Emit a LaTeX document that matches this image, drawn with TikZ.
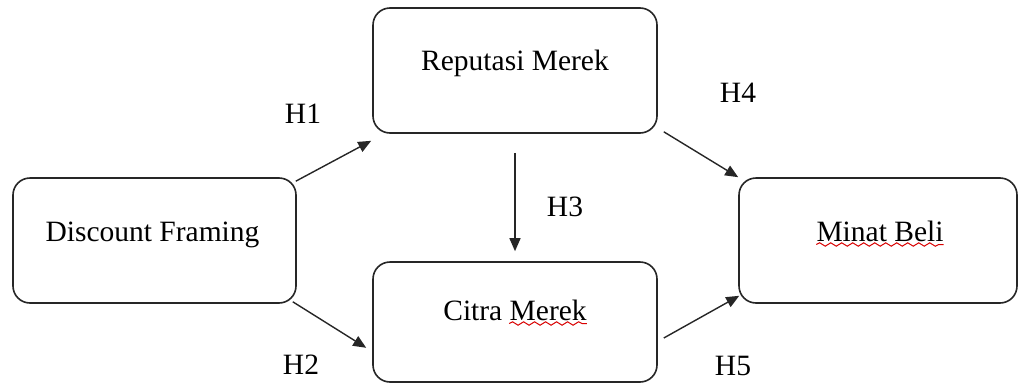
\documentclass[tikz,border=0pt]{standalone}
\usepackage{fontspec}
\setmainfont{Liberation Serif}
\usetikzlibrary{arrows.meta,calc,decorations.pathmorphing}
\tikzset{
  box/.style={draw=black!85, line width=1.6pt, rounded corners=17pt, fill=white},
  txt/.style={inner sep=0pt, anchor=base, font=\fontsize{29.5}{35}\selectfont},
  conn/.style={line width=1.4pt, draw=black!85, -{Triangle[length=13pt,width=11pt]}},
  spell/.style={draw=red!85!black, line width=1pt, decorate, decoration={snake, segment length=11pt, amplitude=1.7pt}}
}
\begin{document}
\begin{tikzpicture}[x=1pt,y=-1pt]
\useasboundingbox (0,0) rectangle (1018,386);
% boxes
\node[box, minimum width=283pt, minimum height=125pt] (df) at (154.5,240.5) {};
\node[box, minimum width=284pt, minimum height=125pt] (rep) at (515,70.5) {};
\node[box, minimum width=284pt, minimum height=120pt] (cit) at (515,322) {};
\node[box, minimum width=278pt, minimum height=125pt] (mb) at (878,240.5) {};
% texts
\node[txt] (dft) at ($(df.center)+(-2,0.5)$) {Discount Framing};
\node[txt] (rept) at ($(rep.center)+(0,-0.5)$) {Reputasi Merek};
\node[txt] (citt) at ($(cit.center)+(0,-2)$) {Citra Merek};
\node[txt] (mbt) at ($(mb.center)+(2,0.5)$) {Minat Beli};
% spell-check marks
\coordinate (s1a) at ($(citt.base west)+(66,3.5)$);
\coordinate (s1b) at ($(citt.base east)+(0,3.5)$);
\coordinate (s2a) at ($(mbt.base west)+(0,3.5)$);
\coordinate (s2b) at ($(mbt.base east)+(0,3.5)$);
\draw[spell] (s1a) -- (s1b);
\draw[spell] (s2a) -- (s2b);
% connectors
\draw[conn] ($(df.north east)+(-1,4)$) -- ($(rep.south west)+(-1,7)$);
\draw[conn] ($(df.south east)+(-4,-2)$) -- ($(cit.south west)+(-6,-35)$);
\draw[conn] ($(rep.south)+(0,19)$) -- ($(cit.north)+(0,-10)$);
\draw[conn] ($(rep.south east)+(6,-2)$) -- ($(mb.north west)+(0,0)$);
\draw[conn] ($(cit.east)+(6,16)$) -- ($(mb.south west)+(1,-8)$);
% hypothesis labels
\node[txt] (h1) at (303,123) {H1};
\node[txt] (h2) at (301,374) {H2};
\node[txt] (h3) at (565,216) {H3};
\node[txt] (h4) at (738,102) {H4};
\node[txt] (h5) at (733,375) {H5};
\end{tikzpicture}
\end{document}
